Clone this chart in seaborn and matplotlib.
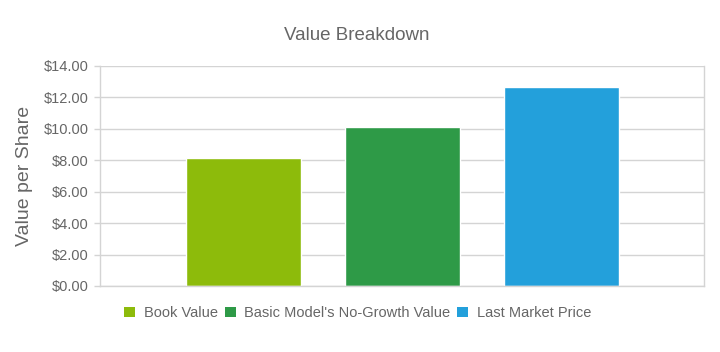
import pandas as pd
import matplotlib.pyplot as plt
import seaborn as sns
from matplotlib.ticker import FuncFormatter
from matplotlib.patches import Patch

# data
categories = ["Book Value", "Basic Model's No-Growth Value", "Last Market Price"]
values = [8.13, 10.15, 12.65]
colors = ["#8dbb0b", "#2e9a47", "#23a0db"]

df = pd.DataFrame({"group": [""] * len(categories), "category": categories, "value": values})

sns.set_theme(style="white")
plt.rcParams["font.family"] = ["Liberation Sans", "DejaVu Sans"]
text_gray = "#666666"
grid_gray = "#d4d4d4"

fig = plt.figure(figsize=(7.2, 3.52), dpi=100)
ax = fig.add_axes([0.139, 0.1875, 0.839, 0.625])

sns.barplot(data=df, x="group", y="value", hue="category", palette=colors,
            width=0.79, gap=0.277, saturation=1, legend=False, ax=ax)

ax.set_xlim(-0.5, 0.5)
ax.set_ylim(0, 14)
ax.set_yticks(range(0, 15, 2))
ax.yaxis.set_major_formatter(FuncFormatter(lambda v, p: f"${v:.2f}"))
ax.grid(axis="y", color=grid_gray, linewidth=1)
ax.set_axisbelow(True)
ax.set_xticks([])
ax.set_xlabel("")
ax.set_ylabel("Value per Share", fontsize=14, color=text_gray, labelpad=8)
ax.tick_params(axis="y", which="major", left=True, length=4, width=1, color=grid_gray,
               labelsize=10.5, labelcolor=text_gray, pad=4)

for side in ["left", "bottom", "right"]:
    ax.spines[side].set_visible(True)
    ax.spines[side].set_color(grid_gray)
    ax.spines[side].set_linewidth(1)
ax.spines["top"].set_visible(False)

fig.text(0.495, 0.9, "Value Breakdown", ha="center", va="center", fontsize=13.5, color=text_gray)

handles = [Patch(facecolor=c, edgecolor="none") for c in colors]
fig.legend(handles, categories, loc="center", bbox_to_anchor=(0.497, 0.111), ncol=3,
           frameon=False, fontsize=10.5, labelcolor=text_gray, handlelength=0.75,
           handleheight=0.75, handletextpad=0.6, columnspacing=0.45)

plt.savefig("out.png", dpi=100)
